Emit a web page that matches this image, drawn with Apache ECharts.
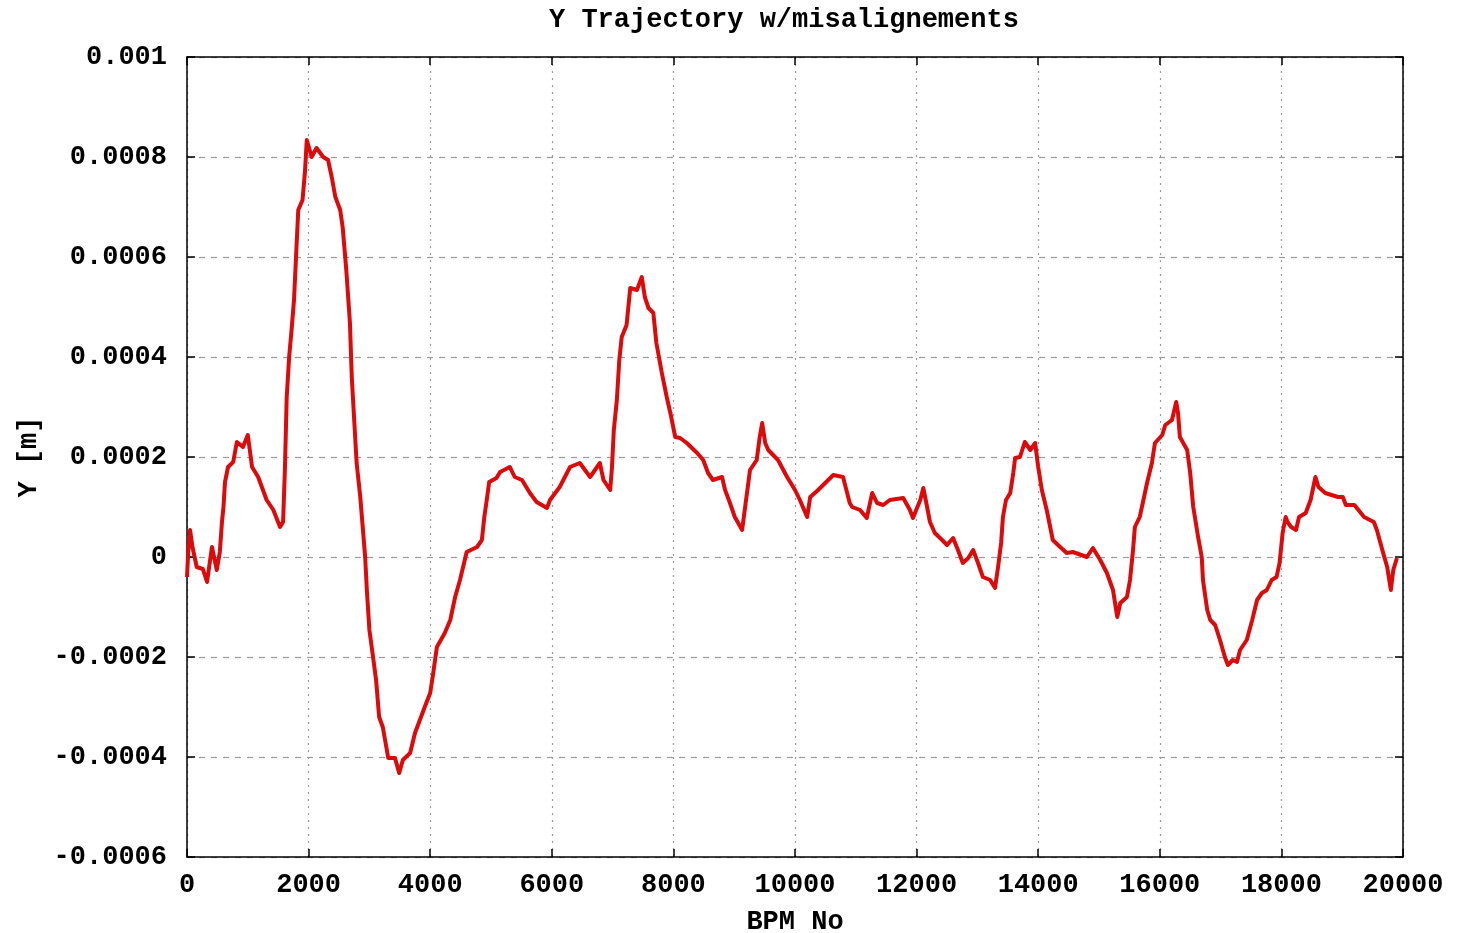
<!DOCTYPE html>
<html>
<head>
<meta charset="utf-8">
<script src="https://cdn.jsdelivr.net/npm/echarts@6/dist/echarts.min.js"></script>
<style>
html,body{margin:0;padding:0;background:#fff;}
#chart{width:1458px;height:933px;}
</style>
</head>
<body>
<div id="chart"></div>
<script>
// BPM numbers (x) and Y trajectory [m]
const bpmNo = [0,20,50,90,160,260,330,410,490,540,575,600,625,675,760,820,920,1000,1070,1170,1310,1420,1530,1580,1610,1640,1680,1720,1760,1800,1830,1900,1940,1970,2050,2130,2240,2320,2380,2440,2520,2560,2620,2680,2710,2750,2790,2850,2890,2930,2960,3000,3060,3110,3160,3220,3310,3420,3490,3550,3670,3750,3830,3910,4000,4050,4110,4240,4330,4410,4490,4600,4770,4850,4890,4930,4970,5090,5150,5310,5390,5510,5640,5750,5920,5970,6130,6300,6460,6630,6790,6850,6960,6990,7020,7070,7110,7150,7230,7290,7400,7480,7530,7590,7670,7720,7810,7890,7950,8030,8110,8220,8390,8490,8570,8650,8800,8850,8930,9010,9130,9180,9260,9370,9420,9460,9510,9560,9720,9870,10000,10080,10200,10250,10380,10630,10790,10900,10940,11070,11180,11270,11350,11450,11560,11780,11890,11940,12060,12110,12150,12220,12300,12420,12500,12600,12680,12760,12850,12930,13010,13090,13210,13290,13340,13390,13420,13470,13540,13590,13620,13700,13780,13870,13950,14000,14060,14140,14240,14360,14470,14570,14800,14900,15020,15130,15230,15300,15350,15460,15510,15560,15590,15670,15720,15790,15870,15920,16040,16090,16200,16270,16300,16330,16450,16500,16550,16630,16690,16710,16780,16830,16910,16990,17070,17120,17200,17270,17320,17430,17520,17600,17680,17760,17840,17920,17970,18020,18070,18100,18160,18240,18290,18400,18480,18560,18610,18720,18930,19010,19060,19200,19360,19520,19570,19660,19740,19800,19840,19900];
const yTraj = [-0.00004,0.00001,0.000054,0.00002,-0.00002,-0.000024,-0.00005,0.00002,-0.000026,0.00001,0.00007,0.0001,0.00015,0.00018,0.00019,0.00023,0.00022,0.000244,0.00018,0.00016,0.000114,0.000094,0.00006,0.00007,0.000174,0.00032,0.0004,0.000454,0.000514,0.000618,0.000694,0.000714,0.00077,0.000834,0.0008,0.000818,0.0008,0.000794,0.00076,0.00072,0.000694,0.00066,0.000574,0.000468,0.00036,0.000274,0.000188,0.00012,0.00006,0,-0.00007,-0.000146,-0.0002,-0.000246,-0.00032,-0.00034,-0.000402,-0.000402,-0.000432,-0.000406,-0.000392,-0.000352,-0.000326,-0.0003,-0.000272,-0.000232,-0.00018,-0.000152,-0.000126,-0.00008,-0.000046,0.00001,0.00002,0.000034,0.00008,0.000114,0.00015,0.000158,0.00017,0.00018,0.00016,0.000154,0.000128,0.00011,0.000098,0.000114,0.00014,0.00018,0.000188,0.00016,0.000188,0.000154,0.000134,0.00018,0.000254,0.000314,0.000394,0.00044,0.000464,0.000538,0.000534,0.00056,0.00052,0.000498,0.000488,0.000428,0.000368,0.00032,0.000288,0.00024,0.000238,0.000228,0.000208,0.000194,0.000168,0.000154,0.00016,0.000134,0.000108,0.00008,0.000054,0.0001,0.000174,0.000194,0.00024,0.000268,0.000228,0.000214,0.000194,0.00016,0.000134,0.000114,0.00008,0.00012,0.000134,0.000164,0.00016,0.000108,0.0001,0.000094,0.000078,0.000128,0.000108,0.000104,0.000114,0.000118,0.000094,0.000078,0.000114,0.000138,0.000114,0.00007,0.000048,0.000034,0.000024,0.000038,0.000014,-0.000012,-0.000002,0.000014,-0.000012,-0.00004,-0.000046,-0.000062,-0.00002,0.000028,0.00008,0.000114,0.000128,0.000168,0.000198,0.0002,0.00023,0.000214,0.000228,0.00018,0.000134,0.000094,0.000034,0.00002,0.000008,0.00001,0,0.000018,-0.000006,-0.000032,-0.000066,-0.00012,-0.000092,-0.00008,-0.000046,0.000014,0.00006,0.00008,0.000108,0.000148,0.000188,0.000228,0.000244,0.000264,0.000274,0.00031,0.000288,0.00024,0.000214,0.000168,0.0001,0.00004,0,-0.000046,-0.000106,-0.000126,-0.000136,-0.000166,-0.0002,-0.000216,-0.000206,-0.00021,-0.000186,-0.000166,-0.000126,-0.000086,-0.000072,-0.000066,-0.000046,-0.00004,-0.000012,0.000048,0.00008,0.00007,0.00006,0.000054,0.00008,0.000088,0.000114,0.00016,0.00014,0.000128,0.00012,0.00012,0.000104,0.000104,0.00008,0.00007,0.000054,0.000014,-0.00002,-0.000066,-0.000026,-0.000002];
const xTickLabels = ['0','2000','4000','6000','8000','10000','12000','14000','16000','18000','20000'];
const yTickLabels = ['-0.0006','-0.0004','-0.0002','0','0.0002','0.0004','0.0006','0.0008','0.001'];

const FONT = 'Liberation Mono';
const FS = 27;
const chart = echarts.init(document.getElementById('chart'), null, {renderer:'canvas'});
const data = bpmNo.map((x,i)=>[x, yTraj[i]]);
const frameLine = {show:true, onZero:false, lineStyle:{color:'#000', width:1.5}};
const tick = {show:true, inside:true, length:8, lineStyle:{color:'#000', width:1.5}};
chart.setOption({
  backgroundColor:'#fff',
  animation:false,
  title:{
    text:'Y Trajectory w/misalignements',
    left:544, top:2,
    textStyle:{fontFamily:FONT, fontWeight:'bold', fontSize:FS, color:'#000'}
  },
  grid:{left:187, right:55, top:57, bottom:76, containLabel:false, outerBoundsMode:'none'},
  xAxis:[{
    type:'value', min:0, max:20000, interval:2000, position:'bottom',
    axisLine:frameLine, axisTick:tick,
    axisLabel:{margin:15, fontFamily:FONT, fontWeight:'bold', fontSize:FS, color:'#000',
      formatter:(v,i)=>xTickLabels[Math.round(v/2000)]},
    splitLine:{show:true, lineStyle:{color:'#9a9a9a', width:1.2, type:[2,5]}},
    name:'BPM No', nameLocation:'middle', nameGap:52,
    nameTextStyle:{fontFamily:FONT, fontWeight:'bold', fontSize:FS, color:'#000'}
  },{
    type:'value', min:0, max:20000, interval:2000, position:'top',
    axisLine:frameLine, axisTick:tick, axisLabel:{show:false}, splitLine:{show:false}
  }],
  yAxis:[{
    type:'value', min:-0.0006, max:0.001, interval:0.0002, position:'left',
    axisLine:frameLine, axisTick:tick,
    axisLabel:{margin:20, fontFamily:FONT, fontWeight:'bold', fontSize:FS, color:'#000',
      formatter:(v,i)=>yTickLabels[Math.round((v+0.0006)/0.0002)]},
    splitLine:{show:true, lineStyle:{color:'#9a9a9a', width:1.2, type:[6,6]}},
    name:'Y [m]', nameLocation:'middle', nameRotate:90, nameGap:144,
    nameTextStyle:{fontFamily:FONT, fontWeight:'bold', fontSize:FS, color:'#000'}
  },{
    type:'value', min:-0.0006, max:0.001, interval:0.0002, position:'right',
    axisLine:frameLine, axisTick:tick, axisLabel:{show:false}, splitLine:{show:false}
  }],
  series:[{
    type:'line', xAxisIndex:0, yAxisIndex:0, data:data,
    showSymbol:false, symbol:'none',
    lineStyle:{color:'#dc0a0a', width:4, join:'round'},
    z:5
  }]
});
</script>
</body>
</html>
